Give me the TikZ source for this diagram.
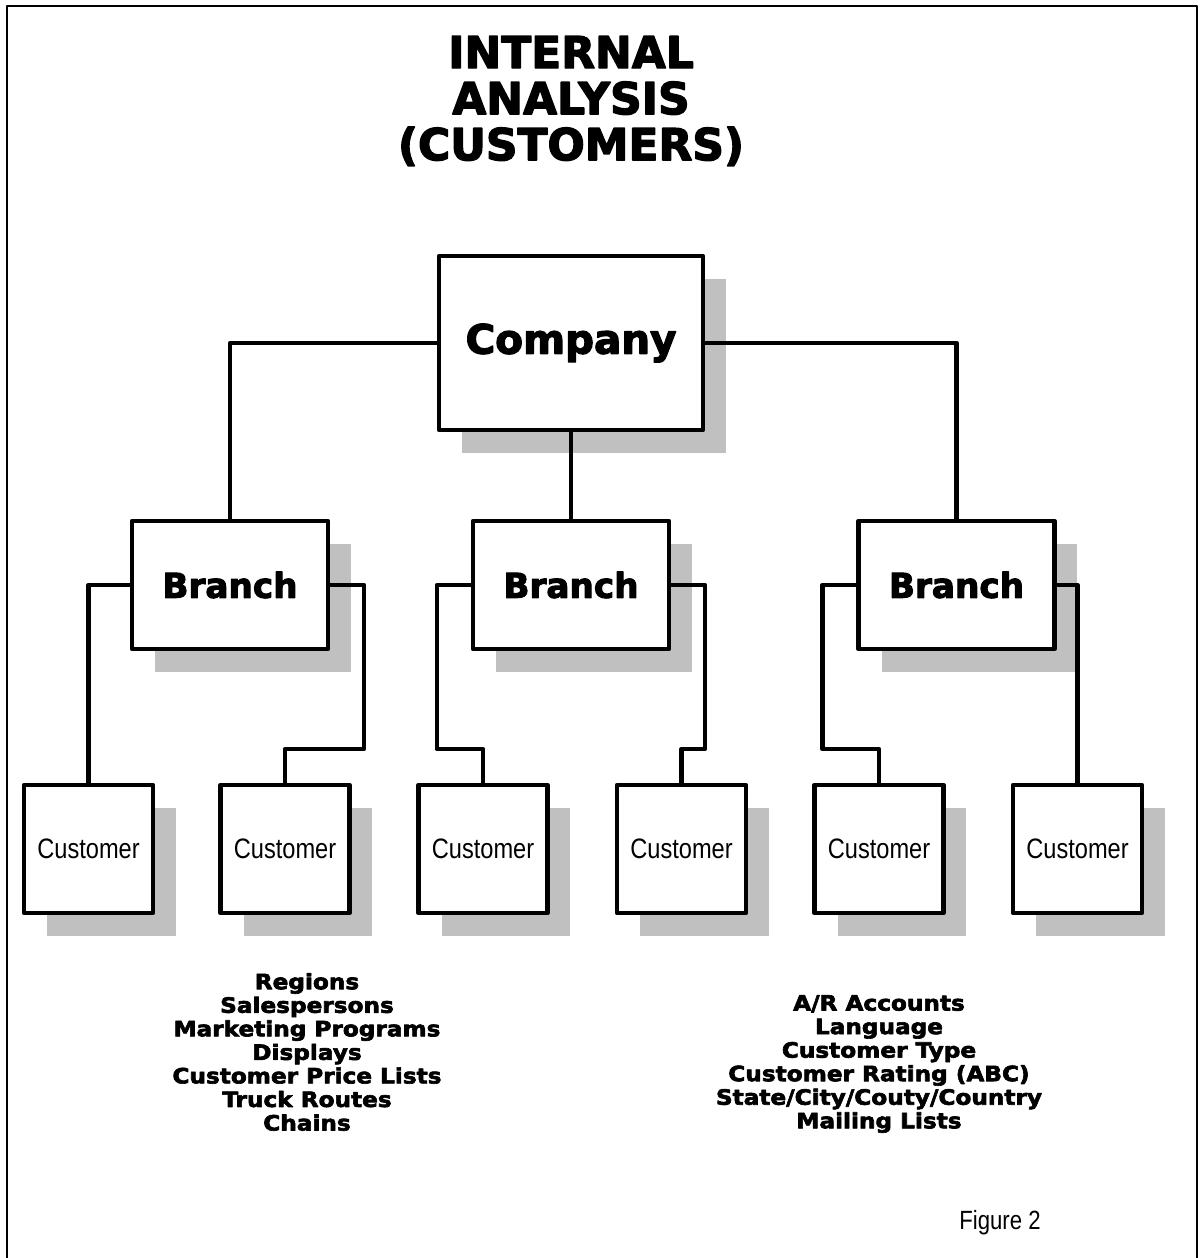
\documentclass[tikz,border=0pt]{standalone}
\usepackage{fontspec}
\usepackage{xcolor}
\usepackage{tikz}
\usetikzlibrary{shadows}
\usetikzlibrary{positioning}

\newfontfamily\heavyfont{DejaVu Sans Bold}[FakeBold=3]
\newfontfamily\heavywide{DejaVu Sans Bold}[FakeStretch=1.1,FakeBold=3]
\newfontfamily\narrowfont{Liberation Sans}[FakeStretch=0.84]
\definecolor{shadowgray}{RGB}{192,192,192}

\begin{document}
\begin{tikzpicture}[x=0.02cm, y=-0.02cm, line join=round,
    box/.style={draw, line width=2.5pt, fill=white,
      drop shadow={shadow xshift=0.46cm, shadow yshift=-0.46cm, fill=shadowgray, opacity=1}},
    company/.style={box, minimum width=5.28cm, minimum height=3.48cm,
      font=\heavyfont\fontsize{23}{27}\selectfont},
    branch/.style={box, minimum width=3.92cm, minimum height=2.56cm,
      font=\heavyfont\fontsize{19.5}{23}\selectfont},
    customer/.style={box, minimum width=2.58cm, minimum height=2.56cm,
      font=\narrowfont\fontsize{16}{18}\selectfont},
    heading/.style={align=center, font=\heavyfont\fontsize{25}{26.2}\selectfont},
    list/.style={align=center, font=\heavywide\fontsize{12}{13.4}\selectfont},
    link/.style={line width=2.5pt}]
  \useasboundingbox (0,0) rectangle (1200,1258);
  % frame, open at the bottom
  \draw[line width=1pt] (7,1258) -- (7,6) -- (1197,6) -- (1197,1258);

  \node[heading] (title) at (571,101) {INTERNAL\\ANALYSIS\\(CUSTOMERS)};

  \node[company]  (comp) at (571,343)   {Company};
  \node[branch]   (br1)  at (230,585)   {Branch};
  \node[branch]   (br2)  at (571,585)   {Branch};
  \node[branch]   (br3)  at (956.5,585) {Branch};
  \node[customer] (cu1)  at (88.5,849)  {Customer};
  \node[customer] (cu2)  at (285,849)   {Customer};
  \node[customer] (cu3)  at (483,849)   {Customer};
  \node[customer] (cu4)  at (681.5,849) {Customer};
  \node[customer] (cu5)  at (879,849)   {Customer};
  \node[customer] (cu6)  at (1077.5,849) {Customer};

  % connectors
  \draw[link] (comp.west) -| (br1.north);
  \draw[link] (comp.east) -| (br3.north);
  \draw[link] (comp.south) -- (br2.north);
  \draw[link] (br1.west) -| (cu1.north);
  \draw[link] (br1.east) -| ++(34,164) -| (cu2.north);
  \draw[link] (br2.west) -| ++(-34,164) -| (cu3.north);
  \draw[link] (br2.east) -| ++(34,164) -| (cu4.north);
  \draw[link] (br3.west) -| ++(-34,164) -| (cu5.north);
  \draw[link] (br3.east) -| (cu6.north);

  \node[list] (leftlist) at (307,1052)
    {Regions\\Salespersons\\Marketing Programs\\Displays\\Customer Price Lists\\Truck Routes\\Chains};
  \node[list] (rightlist) at (879,1064)
    {A/R Accounts\\Language\\Customer Type\\Customer Rating (ABC)\\State/City/Couty/Country\\Mailing Lists};

  \node[font=\narrowfont\fontsize{15}{18}\selectfont] (figlabel) at (1000,1223) {Figure 2};
\end{tikzpicture}
\end{document}
